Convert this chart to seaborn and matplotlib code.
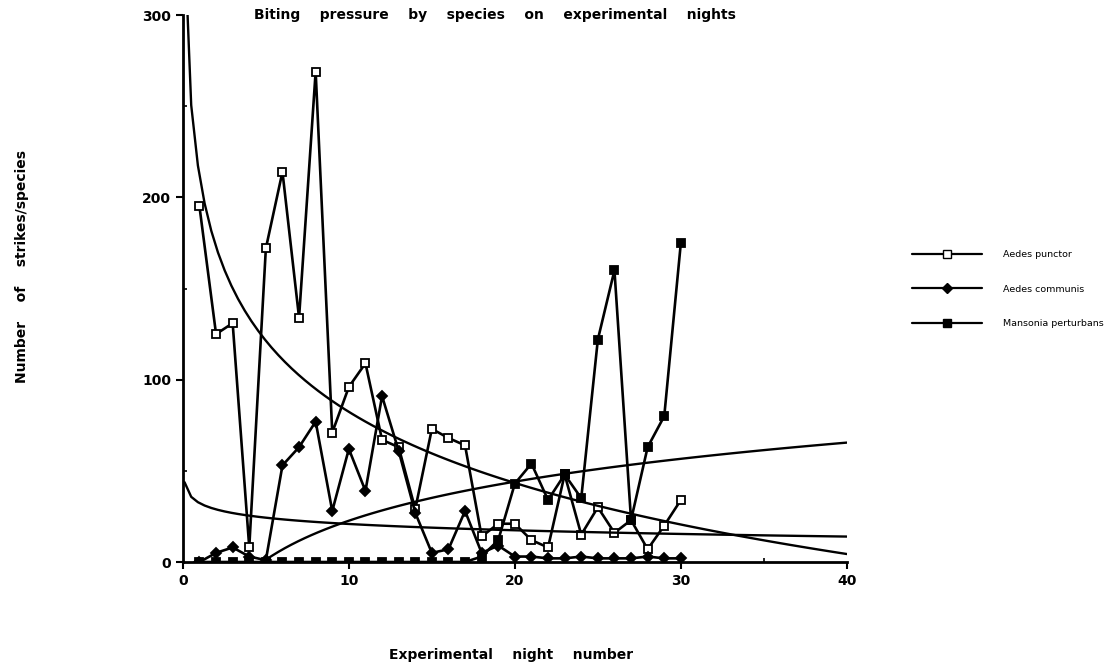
import numpy as np
import pandas as pd
import seaborn as sns
import matplotlib
matplotlib.use("Agg")
import matplotlib.pyplot as plt
from matplotlib.lines import Line2D
from matplotlib.ticker import MultipleLocator

# values
nights = list(range(1, 31))
aedes_punctor = [195, 125, 131, 8, 172, 214, 134, 269, 71, 96,
                 109, 67, 63, 29, 73, 68, 64, 14, 21, 21,
                 12, 8, 48, 15, 30, 16, 23, 7, 20, 34]
aedes_communis = [0, 5, 8, 3, 1, 53, 63, 77, 28, 62,
                  39, 91, 61, 27, 5, 7, 28, 5, 9, 3,
                  3, 2, 2, 3, 2, 2, 2, 3, 2, 2]
mansonia_perturbans = [0, 0, 0, 0, 0, 0, 0, 0, 0, 0,
                       0, 0, 0, 0, 0, 0, 0, 3, 12, 43,
                       54, 34, 48, 35, 122, 160, 23, 63, 80, 175]
species = ["Aedes punctor", "Aedes communis", "Mansonia perturbans"]
x_ticks = [0, 10, 20, 30, 40]
y_ticks = [0, 100, 200, 300]

df = pd.DataFrame({
    "night": nights * 3,
    "strikes": aedes_punctor + aedes_communis + mansonia_perturbans,
    "species": np.repeat(species, len(nights)),
})

sns.set_theme(style="ticks", rc={"text.color": "black", "axes.labelcolor": "black",
                                 "xtick.color": "black", "ytick.color": "black"})
plt.rcParams["font.family"] = ["DejaVu Sans"]

fig = plt.figure(figsize=(11.15, 6.67), dpi=100)
ax = fig.add_axes([0.164, 0.1574, 0.5955, 0.8201])

# marker style per species: open square, diamond, filled square
marker = {"Aedes punctor": "s", "Aedes communis": "D", "Mansonia perturbans": "s"}
face = {"Aedes punctor": "white", "Aedes communis": "black", "Mansonia perturbans": "black"}
msize = {"Aedes punctor": 6, "Aedes communis": 5, "Mansonia perturbans": 6}

for name in species:
    sub = df[df["species"] == name]
    sns.lineplot(data=sub, x="night", y="strikes", ax=ax, color="black",
                 lw=1.9, marker=marker[name], markersize=msize[name],
                 markerfacecolor=face[name], markeredgecolor="black",
                 markeredgewidth=1.3, legend=False)

# logarithmic trend line for each species over the whole axis
ax.set_xlim(0.1, 40)
for name in species:
    sub = df[df["species"] == name]
    sns.regplot(data=sub, x="night", y="strikes", ax=ax, logx=True,
                scatter=False, ci=None, truncate=False, color="black",
                line_kws={"lw": 1.7})

ax.set_xlim(0, 40)
ax.set_ylim(0, 300)
ax.set_xticks(x_ticks)
ax.set_yticks(y_ticks)
ax.xaxis.set_minor_locator(MultipleLocator(5))
ax.yaxis.set_minor_locator(MultipleLocator(50))
ax.tick_params(which="major", direction="out", length=5, width=1.5, labelsize=10)
ax.tick_params(which="minor", direction="in", length=3, width=1.2)
for lbl in ax.get_xticklabels() + ax.get_yticklabels():
    lbl.set_fontweight("bold")
for side in ["left", "bottom"]:
    ax.spines[side].set_linewidth(2)
    ax.spines[side].set_color("black")
sns.despine(ax=ax)

ax.set_xlabel("Experimental    night    number", fontsize=10, fontweight="bold")
ax.set_ylabel("Number    of    strikes/species", fontsize=10, fontweight="bold")
ax.xaxis.set_label_coords(0.495, -0.157)
ax.yaxis.set_label_coords(-0.232, 0.541)

fig.text(0.444, 0.977, "Biting    pressure    by    species    on    experimental    nights",
         ha="center", va="center", fontsize=10, fontweight="bold")

handles = [Line2D([], [], color="black", lw=1.6, marker=marker[n], markersize=msize[n],
                  markerfacecolor=face[n], markeredgecolor="black") for n in species]
fig.legend(handles, species, loc="upper left", bbox_to_anchor=(0.818, 0.625),
           frameon=False, fontsize=6.8, handlelength=7.4, handletextpad=2.2,
           labelspacing=2.7, borderpad=0, borderaxespad=0, numpoints=1)

fig.savefig("out.png", dpi=100)
